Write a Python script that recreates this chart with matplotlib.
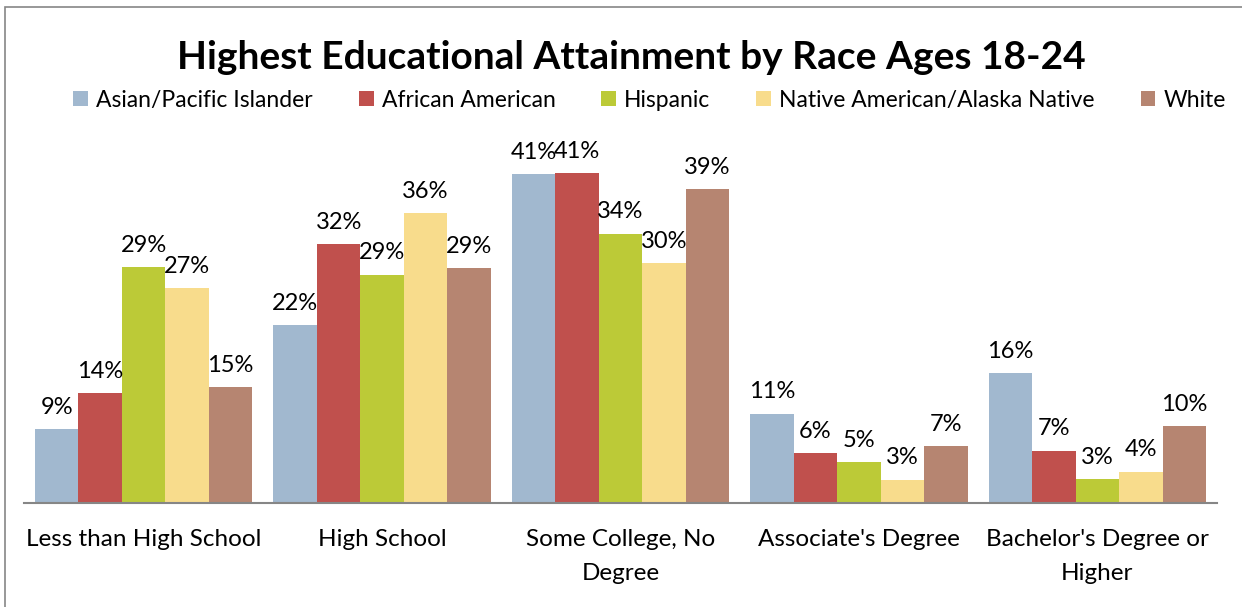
import matplotlib.pyplot as plt
import numpy as np
from matplotlib.patches import Rectangle

categories = ["Less than High School", "High School", "Some College, No\nDegree",
              "Associate's Degree", "Bachelor's Degree or\nHigher"]
races = ["Asian/Pacific Islander", "African American", "Hispanic",
         "Native American/Alaska Native", "White"]
# values (labels show rounded numbers)
asian = [9.2, 22.1, 40.9, 11.1, 16.1]
african = [13.7, 32.2, 41.0, 6.2, 6.5]
hispanic = [29.3, 28.4, 33.5, 5.1, 3.0]
native = [26.7, 36.0, 29.8, 2.9, 3.9]
white = [14.4, 29.2, 39.0, 7.1, 9.6]
labels = [
    ["9%", "22%", "41%", "11%", "16%"],
    ["14%", "32%", "41%", "6%", "7%"],
    ["29%", "29%", "34%", "5%", "3%"],
    ["27%", "36%", "30%", "3%", "4%"],
    ["15%", "29%", "39%", "7%", "10%"],
]
colors = ["#A1B8CF", "#C0504D", "#BCCA37", "#F8DC8C", "#B68571"]

plt.rcParams['font.family'] = ['Lato', 'DejaVu Sans']

fig = plt.figure(figsize=(12.42, 6.07), dpi=100)
ax = fig.add_axes([24.5 / 1242, 104 / 607, 1192 / 1242, 362 / 607])

series = [asian, african, hispanic, native, white]
x = np.arange(len(categories))
w = 0.912 / 5
for i, vals in enumerate(series):
    pos = x - 0.456 + w * (i + 0.5)
    ax.bar(pos, vals, width=w, color=colors[i], label=races[i])
    for p, v, t in zip(pos, vals, labels[i]):
        ax.text(p, v + 1.4, t, ha='center', va='bottom', fontsize=17)

ax.set_xlim(-0.5, 4.5)
ax.set_ylim(0, 45)
ax.set_xticks(x)
ax.set_xticklabels(categories, fontsize=17.5, linespacing=1.75)
ax.tick_params(axis='x', length=0, pad=19)
ax.set_yticks([])
for s in ['top', 'right', 'left']:
    ax.spines[s].set_visible(False)
ax.spines['bottom'].set_color('#868686')
ax.spines['bottom'].set_linewidth(1.5)

fig.text(0.508, 0.906, "Highest Educational Attainment by Race Ages 18-24",
         ha='center', va='center', fontsize=28, fontweight='bold')
fig.legend(loc='center', bbox_to_anchor=(0.523, 0.835), ncol=5, frameon=False,
           fontsize=16.5, handlelength=0.65, handleheight=0.65, handletextpad=0.35,
           columnspacing=2.0)

# chart frame (left/top edges visible)
fig.add_artist(Rectangle((5 / 1242, -0.1), 1.2, (600 / 607) + 0.1,
                         transform=fig.transFigure, fill=False,
                         edgecolor='#868686', linewidth=1.2))

fig.savefig("out.png", dpi=100)
